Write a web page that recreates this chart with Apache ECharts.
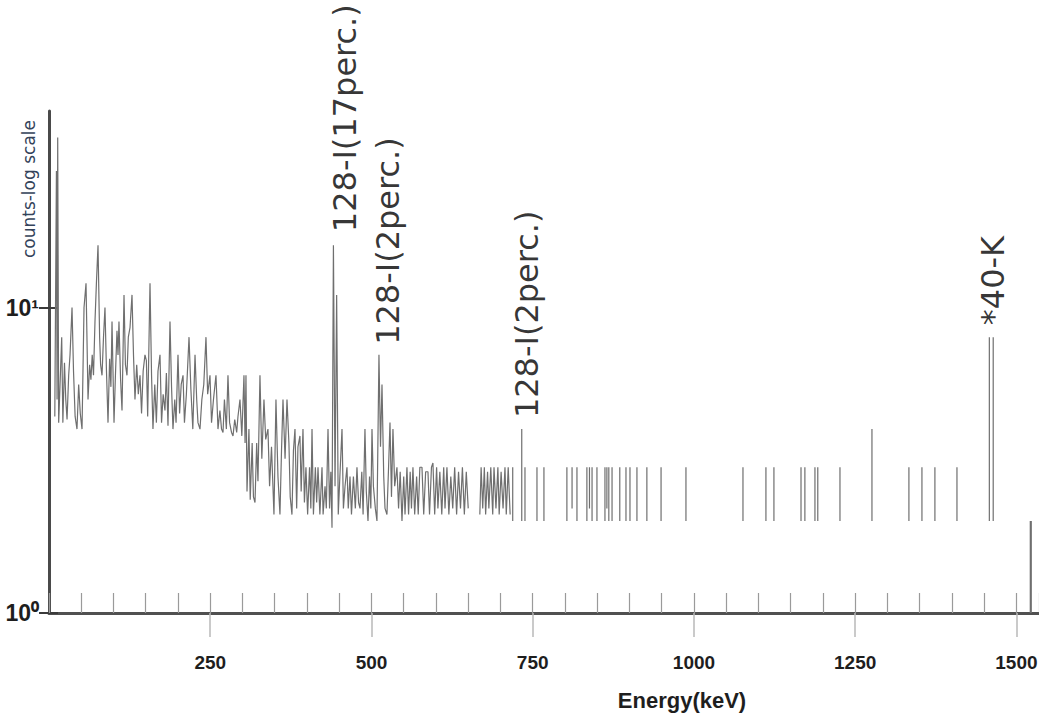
<!DOCTYPE html>
<html>
<head>
<meta charset="utf-8">
<script src="https://cdn.jsdelivr.net/npm/echarts@6/dist/echarts.min.js"></script>
<style>
  html, body { margin: 0; padding: 0; background: #fff; }
  #chart { width: 1039px; height: 727px; }
</style>
</head>
<body>
<div id="chart"></div>
<script>
// Gamma-ray spectrum: counts (log scale) against energy in keV.
// Each entry is [energy keV, counts].

// 0 - 300 keV: Compton continuum, fully connected trace
const lowEnergyBand = [
  [9, 4.4], [11.5, 28], [12.5, 5], [13.5, 36], [15, 4.2], [17, 5.5], [19.7, 8], [21.5, 4.2],
  [24, 6.6], [26, 5], [28, 4.3], [30.5, 6], [32.6, 7], [35.7, 10], [38, 6.2], [40.5, 4.4],
  [43.4, 4], [46, 5.6], [48.5, 4.5], [51.2, 4], [54.3, 10], [57.4, 12], [60.5, 5], [63, 6.5],
  [65, 5.8], [67, 7], [69, 6], [71.3, 9], [73.5, 12], [76, 16], [78.5, 8], [80, 6.5],
  [82.2, 6], [84.5, 8], [86.8, 10], [89, 6.3], [91.5, 4.2], [94, 6.8], [96, 5.5], [97.7, 9],
  [100.8, 4.2], [103, 6], [105.4, 8.4], [107, 7], [108.5, 9], [111, 5.8], [113.2, 4.6], [116.3, 11],
  [118.5, 6.5], [120.9, 6], [123, 8], [125.6, 8.6], [128.7, 11], [131, 7], [133.3, 5], [136, 6.5],
  [138.5, 5.2], [141.1, 6], [143.5, 4.5], [146, 6.2], [148.8, 7], [151, 6.7], [153, 4.4], [156.6, 12],
  [159, 6], [161.2, 4], [164, 5.6], [166.5, 4.2], [169, 6.2], [172.1, 7], [174.5, 4.2], [177, 5.2],
  [179.8, 4.6], [182, 6.1], [184.5, 4.1], [187.6, 9], [190, 5.5], [192.2, 4], [195, 5], [197, 4.2],
  [200, 7], [202.5, 4.5], [205, 5.6], [207.8, 6], [210, 4.2], [213, 5.2], [217.1, 8], [220, 5.4],
  [223, 4], [226.4, 7], [229, 5], [231, 4.2], [234.1, 4], [237, 5], [240, 5.6], [243.4, 8],
  [246, 5.2], [249.6, 6], [252, 4.2], [255, 5], [258.9, 6], [262, 4], [265, 4.6], [267.5, 4],
  [269.8, 3.9], [272, 5], [275, 4], [277.5, 6], [280, 4.2], [283, 3.9], [285.3, 3.8], [288, 4.3],
  [291, 3.9], [293, 4.4], [296.1, 5], [299, 3.8], [302.3, 6]
];

// 300 - 650 keV: continuum edge, 441 keV and 511 keV lines
const midEnergyBand = [
  [304, 3.6], [305.4, 6], [307, 2.5], [310, 4], [312, 2.35], [315, 3.6], [317, 2.4], [319.4, 2.3],
  [322, 3.6], [324, 2.7], [327.1, 6], [330, 3.2], [333.3, 5], [336, 3.7], [339.5, 4], [342, 2.6],
  [345, 3.5], [348.8, 2.1], [351.9, 5], [355, 2.8], [358.1, 2.1], [360.5, 3.4], [362.8, 5], [366, 3.2],
  [369, 5], [372, 3.6], [374, 2.4], [376.7, 2.1], [379, 3.4], [381.4, 4], [384, 2.2], [386, 3.5],
  [389.1, 3.8], [391, 2.5], [393.8, 4], [396, 2.3], [398.4, 3], [401, 2.1], [404, 3], [406, 2.2],
  [407.8, 4], [410, 2.1], [413, 3], [415, 2.3], [417.1, 3], [420, 2.1], [423.3, 3], [425, 2.1],
  [428, 2.6], [430, 2.2], [432.6, 4], [435, 2.2], [437, 2.9], [438.8, 1.9], [441, 16], [443.5, 2.6],
  [446, 11], [448.5, 2.1], [451, 2.8], [454.3, 4], [456.5, 2.2], [459, 2.6], [462, 3], [464, 2.2],
  [466.7, 2.8], [469, 2.1], [472, 2.8], [475, 2.2], [477.5, 3], [480, 2.3], [482.2, 2.2], [485, 2.9],
  [487, 2.1], [489.9, 4], [492, 2.5], [494.6, 2], [497, 2.8], [499, 2.2], [500.8, 4], [503, 2.6],
  [506, 2.2], [508.5, 2], [511.6, 7], [514, 3.5], [516.3, 5.6], [519, 2.8], [521, 2.2], [524, 2.1],
  [526.5, 3], [528.7, 4.2], [531, 2.4], [533.3, 4], [536, 2.6], [539.5, 3], [542, 2.2], [544.5, 2.9],
  [547.3, 2], [550, 2.8], [552, 2.1], [555, 3], [557.5, 2.1], [560, 2.9], [562, 2.2], [564.3, 3],
  [567, 2.1], [570, 2.8], [572.5, 2.1], [575, 3], [578.3, 3], [581, 2.1], [584, 2.9], [587.6, 2.9],
  [590, 2.1], [593, 3], [595.3, 3.1], [598, 2.1], [601, 3], [603, 2.2], [606, 2.9], [609, 2.1],
  [612, 3], [614, 2.2], [617, 3], [620, 2.1], [623, 2.8], [626, 2.2], [629, 3], [632, 2.1],
  [635, 2.9], [638, 2.2], [641, 3], [644, 2.1], [647, 2.9], [650, 2.2]
];

// 668 - 715 keV
const lateBand = [
  [668, 2.1], [670, 3], [672.5, 2.2], [675, 3], [677, 2.1], [680, 2.9], [682, 2.2], [685, 3],
  [688, 2.1], [690, 3], [693, 2.2], [696, 3], [698, 2.1], [701, 2.9], [704, 2.2], [707, 3],
  [709, 2.1], [712, 3], [715, 2.1]
];

// Isolated channels above 715 keV: [energy keV, low count, high count]
const isolatedLines = [
  [719, 2, 3], [733, 2, 4], [738, 2, 3], [756.6, 2, 3], [767.4, 2, 3], [803, 2, 3], [811, 2.2, 3],
  [818.6, 2, 3], [834, 2, 3], [838, 2.2, 3], [842, 2, 3], [849.6, 2, 3], [862, 2, 3], [865, 2.2, 3],
  [868, 2, 3], [873, 2, 3], [885, 2, 3], [894.6, 2, 3], [900.8, 2, 3], [911.6, 2, 3], [927, 2, 3],
  [949, 2, 3], [987.6, 2, 3], [1076, 2, 3], [1111.6, 2, 3], [1124, 2, 3], [1166, 2, 3], [1172, 2, 3],
  [1187.6, 2, 3], [1192, 2, 3], [1226.4, 2, 3], [1276, 2, 4], [1333.3, 2, 3], [1353.5, 2, 3],
  [1373.6, 2, 3], [1407.8, 2, 3], [1458, 2, 8], [1464, 2, 8], [1521.5, 1, 2], [1523, 1, 2]
];

// Identified peaks
const peakNames = ['128-I(17perc.)', '128-I(2perc.)', '128-I(2perc.)', '*40-K'];
const peakEnergies = [441, 511.6, 733, 1458];
const peakCounts = [16, 7, 4, 8];
const peakLabelOffsets = [[13, 11.5], [10, 9], [11, 5], [12, 3.6]];

// Axis ticks
const energyTicks = [250, 500, 750, 1000, 1250, 1500];
const countTicks = [1, 10];
const countTickLabels = ['10\u2070', '10\u00B9'];

// Assemble the trace; '-' breaks the line between separated channels
const spectrum = [];
lowEnergyBand.concat(midEnergyBand).forEach(p => spectrum.push(p));
spectrum.push([659, '-']);
lateBand.forEach(p => spectrum.push(p));
spectrum.push([717, '-']);
isolatedLines.forEach(([e, lo, hi]) => {
  spectrum.push([e, lo], [e, hi], [e, '-']);
});

const axisFont = "'Liberation Sans', Arial, sans-serif";

const chart = echarts.init(document.getElementById('chart'), null, { renderer: 'svg' });

chart.setOption({
  animation: false,
  backgroundColor: '#ffffff',
  grid: { left: 49, right: 0, top: 111, bottom: 114, containLabel: false, outerBoundsMode: 'none' },
  xAxis: [
    {
      type: 'value', min: 0, max: 1535, interval: 250, position: 'bottom',
      axisLine: { show: true, onZero: false, lineStyle: { color: '#505050', width: 3 } },
      axisTick: { show: true, inside: false, length: 24, customValues: energyTicks,
                  lineStyle: { color: '#b8b8b8', width: 1.5 } },
      axisLabel: { show: true, customValues: energyTicks, margin: 40, fontFamily: axisFont,
                   formatter: v => String(v),
                   fontWeight: 'bold', fontSize: 19, color: '#1e1e1e' },
      splitLine: { show: false },
      name: 'Energy(keV)', nameLocation: 'middle', nameGap: 76,
      nameTextStyle: { fontFamily: axisFont, fontWeight: 'bold', fontSize: 22, color: '#1e1e1e',
                       padding: [0, 0, 0, 276] }
    },
    {
      // inward minor ticks every 50 keV
      type: 'value', min: 0, max: 1535, interval: 50, position: 'bottom',
      axisLine: { show: false },
      axisTick: { show: true, inside: true, length: 20, lineStyle: { color: '#9a9a9a', width: 1.2 } },
      axisLabel: { show: false },
      splitLine: { show: false }
    }
  ],
  yAxis: [
    {
      type: 'log', logBase: 10, min: 1, max: 44, position: 'left',
      axisLine: { show: true, onZero: false, lineStyle: { color: '#4a4a4a', width: 3 } },
      axisTick: { show: true, inside: false, length: 10, customValues: countTicks,
                  lineStyle: { color: '#3a3a3a', width: 2 } },
      axisLabel: {
        show: true, customValues: countTicks, margin: 10,
        formatter: v => {
          const i = countTicks.findIndex(t => Math.abs(t - v) < 1e-6 * t);
          return i < 0 ? '' : countTickLabels[i];
        },
        fontFamily: axisFont, fontWeight: 'bold', fontSize: 23, color: '#1e1e1e'
      },
      splitLine: { show: false },
      name: 'counts-log scale', nameLocation: 'end', nameRotate: 90, nameGap: -9,
      nameTextStyle: { fontFamily: 'DejaVu Sans', fontSize: 17, color: '#34435a',
                       align: 'right', verticalAlign: 'bottom', padding: [0, 0, 12, 0] }
    },
    {
      // inward half of the decade tick
      type: 'log', logBase: 10, min: 1, max: 44, position: 'left',
      axisLine: { show: false },
      axisTick: { show: true, inside: true, length: 9, customValues: countTicks,
                  lineStyle: { color: '#3a3a3a', width: 2 } },
      axisLabel: { show: false },
      splitLine: { show: false }
    }
  ],
  series: [
    {
      name: 'spectrum', type: 'line', xAxisIndex: 0, yAxisIndex: 0,
      data: spectrum, showSymbol: false, symbol: 'none', connectNulls: false, silent: true,
      lineStyle: { color: '#6f6f6f', width: 1.2 }
    },
    {
      name: 'peaks', type: 'scatter', xAxisIndex: 0, yAxisIndex: 0, symbolSize: 0, silent: true,
      data: peakNames.map((n, i) => ({
        name: n, value: [peakEnergies[i], peakCounts[i]],
        label: { offset: peakLabelOffsets[i] }
      })),
      label: {
        show: true, formatter: '{b}', position: 'inside', rotate: 90,
        align: 'left', verticalAlign: 'middle',
        fontFamily: 'DejaVu Sans', fontSize: 32, color: '#000000'
      }
    }
  ]
});
</script>
</body>
</html>
